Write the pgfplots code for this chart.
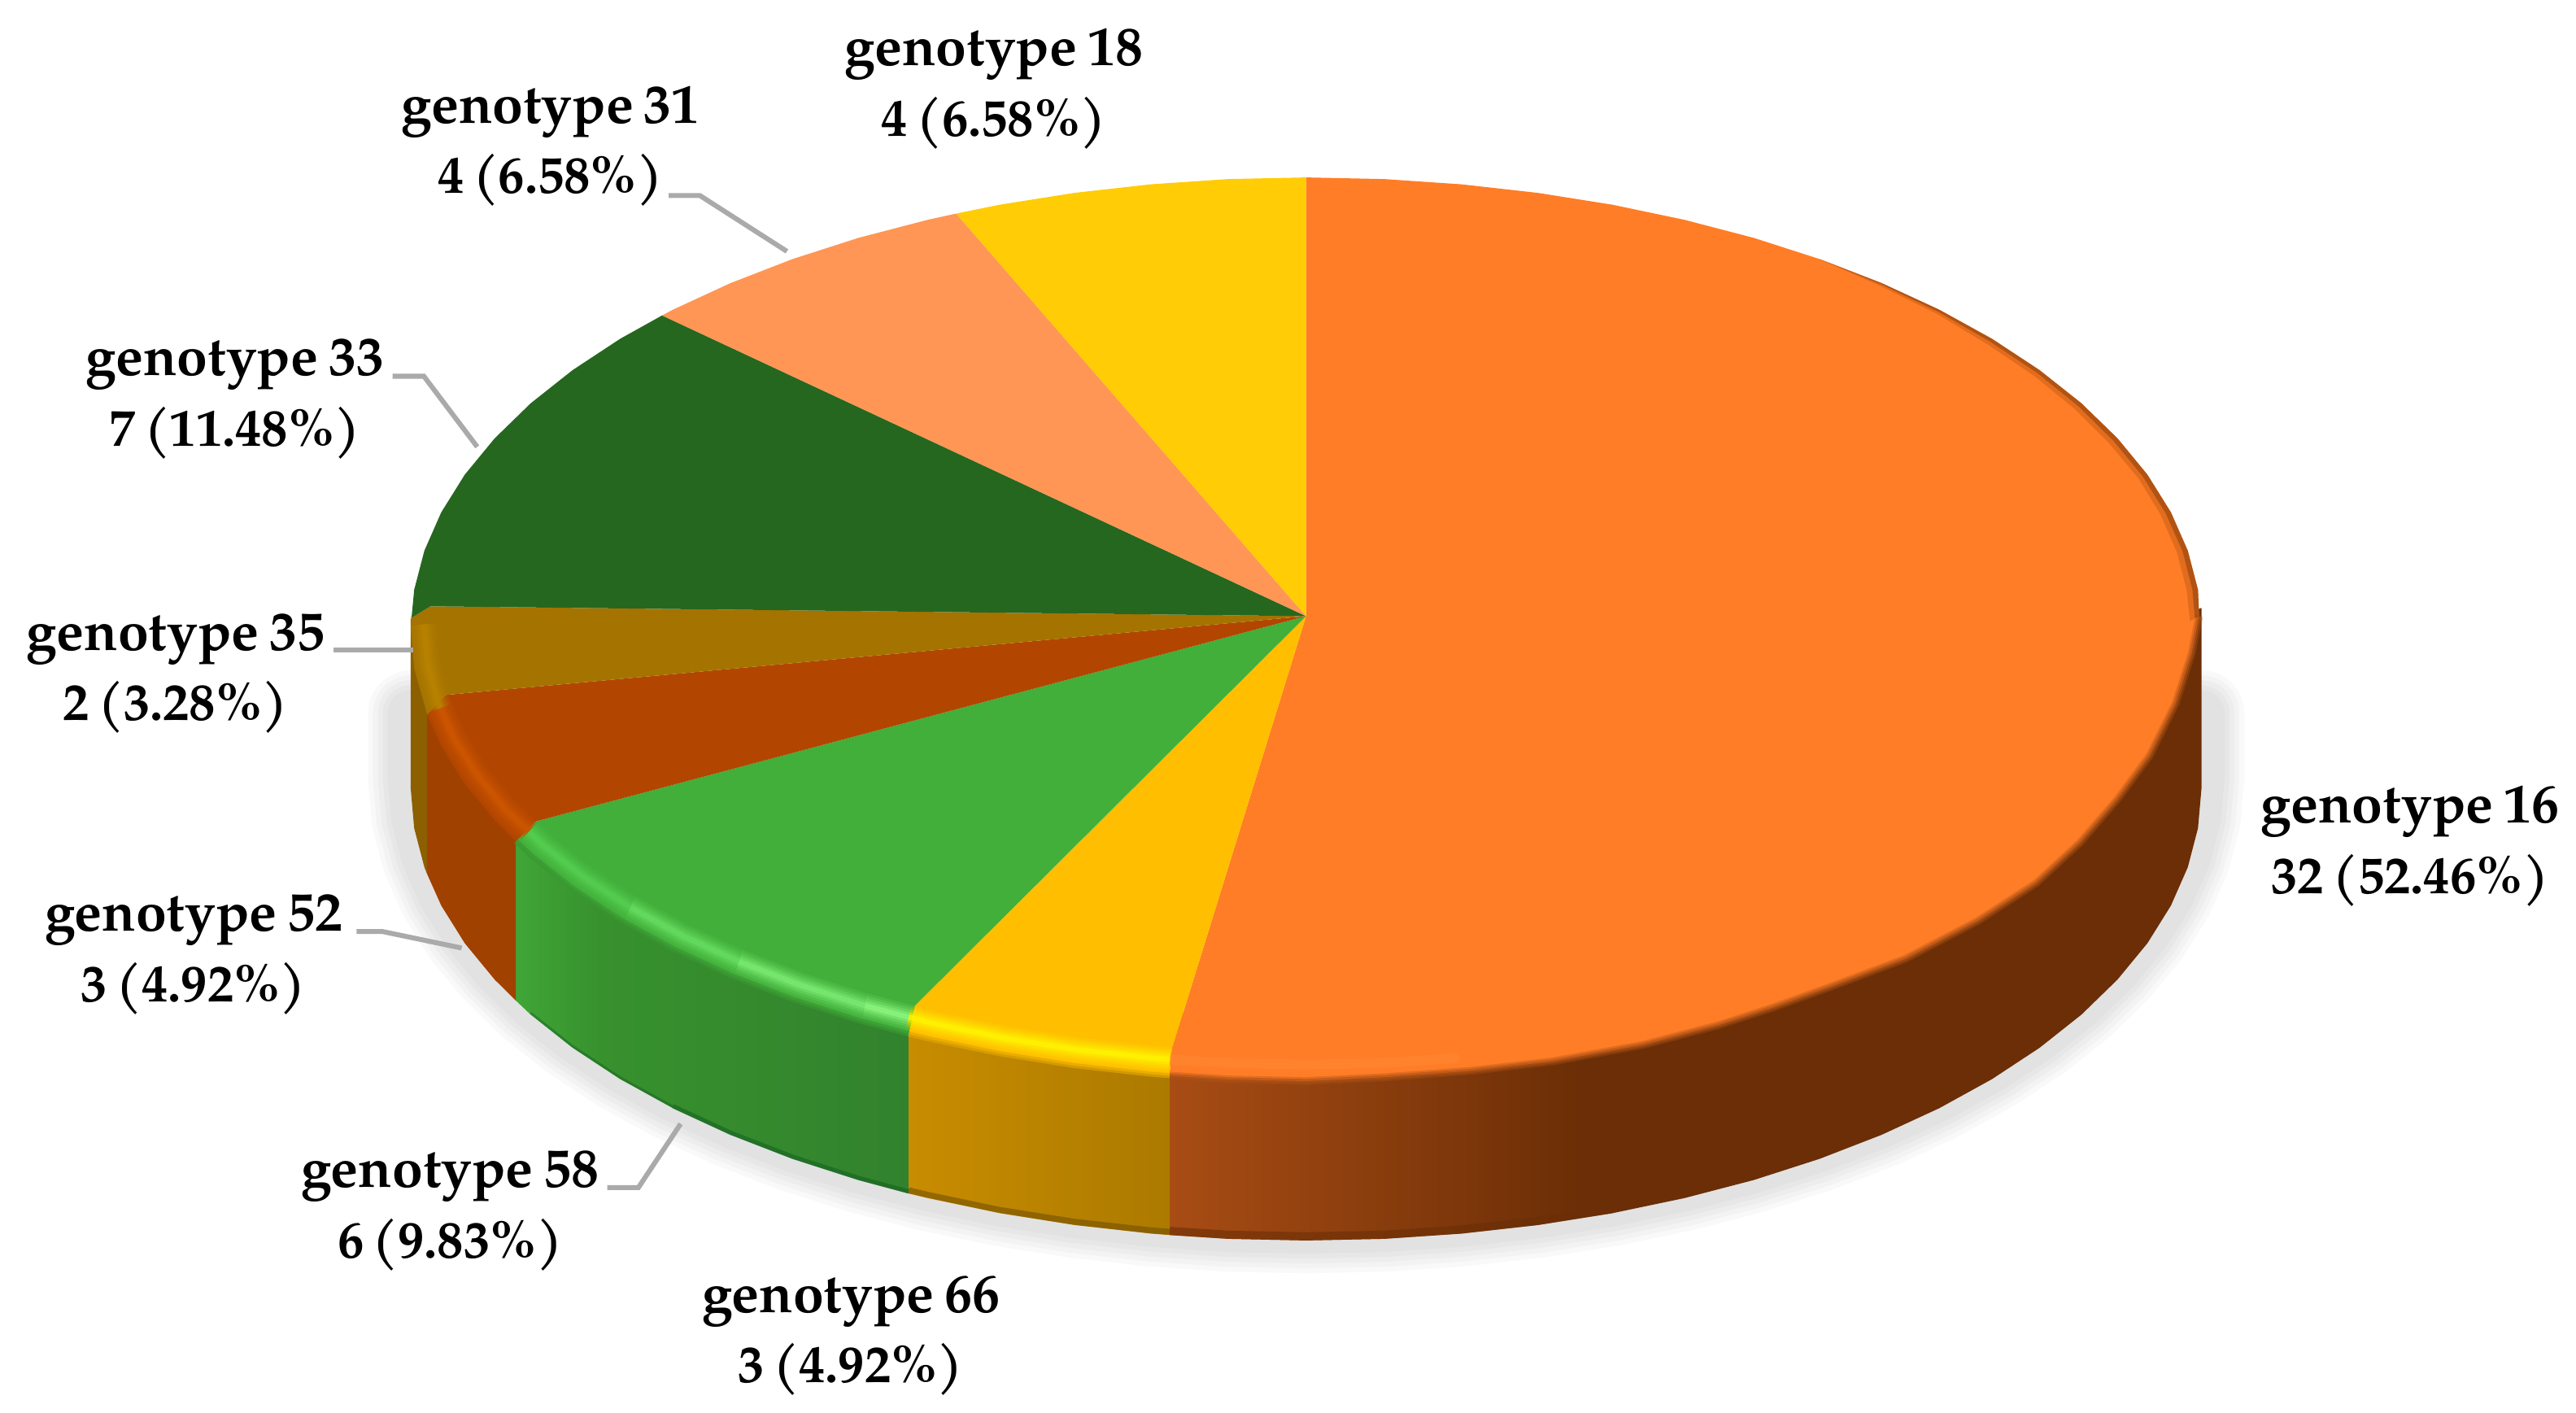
\documentclass[border=0pt]{standalone}
\usepackage{pgfplots}
\pgfplotsset{compat=1.18}
\usepackage{fontspec}
\setmainfont{TeX Gyre Pagella}
\definecolor{cOr}{RGB}{255,125,38}
\definecolor{cGold}{RGB}{255,190,0}
\definecolor{cGr}{RGB}{65,175,58}
\definecolor{cRed}{RGB}{178,70,0}
\definecolor{cOch}{RGB}{165,115,0}
\definecolor{cDg}{RGB}{38,103,32}
\definecolor{cLo}{RGB}{255,150,85}
\definecolor{cYe}{RGB}{255,204,5}
\definecolor{sOrA}{RGB}{168,76,20}
\definecolor{sOrB}{RGB}{107,46,6}
\definecolor{sYeA}{RGB}{200,140,0}
\definecolor{sYeB}{RGB}{172,122,0}
\definecolor{sGrA}{RGB}{50,130,45}
\definecolor{sGrB}{RGB}{55,145,45}
\definecolor{sGrC}{RGB}{64,165,55}
\definecolor{leader}{RGB}{170,170,170}
\pgfdeclarehorizontalshading{sideOrange}{100bp}{color(0bp)=(sOrA); color(25bp)=(sOrA); color(45bp)=(sOrB); color(100bp)=(sOrB)}
\pgfdeclarehorizontalshading{sideYellowR}{100bp}{color(0bp)=(sYeA); color(25bp)=(sYeA); color(75bp)=(sYeB); color(100bp)=(sYeB)}
\pgfdeclarehorizontalshading{sideGreen}{100bp}{color(0bp)=(sGrC); color(25bp)=(sGrC); color(36bp)=(sGrB); color(75bp)=(sGrA); color(100bp)=(sGrA)}
\newcommand{\rimline}[2]{%
  \addplot[draw=#1,line width=7.5pt,opacity=.15,line cap=butt,forget plot] coordinates {#2};
  \addplot[draw=#1,line width=6pt,opacity=.2,line cap=butt,forget plot] coordinates {#2};
  \addplot[draw=#1,line width=4.5pt,opacity=.3,line cap=butt,forget plot] coordinates {#2};
  \addplot[draw=#1,line width=3pt,opacity=.45,line cap=butt,forget plot] coordinates {#2};
  \addplot[draw=#1,line width=1.6pt,opacity=.8,line cap=butt,forget plot] coordinates {#2};
}
\newcommand{\labfont}{\fontsize{16}{21.5}\selectfont\bfseries\spaceskip=2.6pt\relax}
\newcommand{\labfontA}{\fontsize{16.8}{21.5}\selectfont\spaceskip=3.2pt\relax}
\newcommand{\lab}[4]{\node[font=\labfont,align=center,text=black,inner sep=0pt] at (axis cs:#1,#2) {{\labfontA #3}\\#4};}
\newcommand{\shadowpath}{(1340,440)(1340,480)(1337.9,504)(1331.7,527.8)(1321.4,551.2)(1307.1,574.1)(1288.9,596.2)(1267,617.5)(1241.5,637.7)(1212.5,656.8)(1180.4,674.5)(1145.3,690.7)(1107.6,705.3)(1067.5,718.2)(1025.3,729.2)(981.4,738.4)(936,745.6)(889.6,750.8)(842.5,754)(795,755)(747.5,754)(700.4,750.8)(654,745.6)(608.6,738.4)(564.7,729.2)(522.5,718.2)(482.4,705.3)(444.7,690.7)(409.6,674.5)(377.5,656.8)(348.5,637.7)(323,617.5)(301.1,596.2)(282.9,574.1)(268.6,551.2)(258.3,527.8)(252.1,504)(250,480)(250,440)}
\newcommand{\orangeedge}{(1338.6,375)(1334,398)(1324.4,428)(1308.5,460)(1289,486.4)(1266,513)(1239.5,537.5)(1204,560.5)(1160,583.5)(1116,600)(1080,613)(1046,624)(1000,636)(945,646)(895,651.8)(843.6,655.6)(795,658)(747.5,657)(712,654.7)}
\begin{document}
\begin{tikzpicture}
\useasboundingbox (0,0) rectangle (784pt,430pt);
\begin{axis}[
  anchor=south west, at={(0,0)},
  scale only axis, width=784pt, height=430pt,
  xmin=0, xmax=1568, ymin=0, ymax=860, y dir=reverse,
  axis lines=none, clip=false]
% soft shadow
\addplot[draw=black,line width=26pt,opacity=.022,line join=round,line cap=round,yshift=3pt,forget plot] coordinates {\shadowpath};
\addplot[draw=black,line width=23pt,opacity=.022,line join=round,line cap=round,yshift=3pt,forget plot] coordinates {\shadowpath};
\addplot[draw=black,line width=20pt,opacity=.022,line join=round,line cap=round,yshift=3pt,forget plot] coordinates {\shadowpath};
\addplot[draw=black,line width=17pt,opacity=.022,line join=round,line cap=round,yshift=3pt,forget plot] coordinates {\shadowpath};
\addplot[draw=black,line width=14pt,opacity=.022,line join=round,line cap=round,yshift=3pt,forget plot] coordinates {\shadowpath};
% sides
\addplot[shading=sideOrange,draw=none,forget plot] coordinates {(712,620)(1340,370)(1340,480)(1337.9,504)(1331.7,527.8)(1321.4,551.2)(1307.1,574.1)(1288.9,596.2)(1267,617.5)(1241.5,637.7)(1212.5,656.8)(1180.4,674.5)(1145.3,690.7)(1107.6,705.3)(1067.5,718.2)(1025.3,729.2)(981.4,738.4)(936,745.6)(889.6,750.8)(842.5,754)(795,755)(747.5,754)(712,751.7)} --cycle;
\addplot[shading=sideYellowR,draw=none,forget plot] coordinates {(712,640)(712,751.7)(700.4,750.8)(654,745.6)(608.6,738.4)(564.7,729.2)(553,726.4)(553,620)} --cycle;
\addplot[shading=sideGreen,draw=none,forget plot] coordinates {(553,620)(553,726.4)(522.5,718.2)(482.4,705.3)(444.7,690.7)(409.6,674.5)(377.5,656.8)(348.5,637.7)(323,617.5)(314,609)(314,500)} --cycle;
\addplot[fill={rgb,255:red,160;green,65;blue,0},draw=none,forget plot] coordinates {(314,500)(314,609)(301.1,596.2)(282.9,574.1)(268.6,551.2)(260,532)(260,425)} --cycle;
\addplot[fill={rgb,255:red,140;green,95;blue,0},draw=none,forget plot] coordinates {(260,425)(260,532)(258.3,527.8)(252.1,504)(250,480)(250,375)} --cycle;
% dark lip at the foot of the side
\addplot[draw=sOrB,line width=2.5pt,opacity=.6,forget plot] coordinates {(712,749.2)(747.5,751.5)(795,752.5)(842.5,751.5)(889.6,748.3)(936,743.1)(981.4,735.9)};
\addplot[draw={rgb,255:red,115;green,80;blue,0},line width=1.8pt,opacity=.6,forget plot] coordinates {(553,724.4)(564.7,727.2)(608.6,736.4)(654,743.6)(700.4,748.8)(712,749.7)};
\addplot[draw={rgb,255:red,20;green,95;blue,35},line width=.7pt,opacity=.45,forget plot] coordinates {(323,616.5)(348.5,636.7)(377.5,655.8)(409.6,673.5)};
\addplot[draw={rgb,255:red,20;green,95;blue,35},line width=1.3pt,opacity=.55,forget plot] coordinates {(409.6,673.2)(444.7,689.4)(482.4,704)(522.5,716.9)(553,725.1)};
% top surface: slices clockwise from 12 o'clock
\addplot[fill=cOr,draw=none,forget plot] coordinates {(795,375)(795,108)(842.5,109)(889.6,112.2)(936,117.4)(981.4,124.6)(1025.3,133.8)(1067.5,144.8)(1107.6,157.7)(1145.3,172.3)(1180.4,188.5)(1212.5,206.2)(1241.5,225.3)(1267,245.5)(1288.9,266.8)(1307.1,288.9)(1321.4,311.8)(1331.7,335.2)(1337.9,359)(1338.6,375)(1334,398)(1324.4,428)(1308.5,460)(1289,486.4)(1266,513)(1239.5,537.5)(1204,560.5)(1160,583.5)(1116,600)(1080,613)(1046,624)(1000,636)(945,646)(895,651.8)(843.6,655.6)(795,658)(747.5,657)(712,654.7)(713.5,638)} --cycle;
\addplot[fill=cGold,draw=none,forget plot] coordinates {(795,375)(713.5,638)(712,654.7)(700.4,653.8)(654,648.6)(608.6,641.4)(564.7,632.2)(553,629.4)(557,612)} --cycle;
\addplot[fill=cGr,draw=none,forget plot] coordinates {(795,375)(557,612)(553,629.4)(522.5,621.2)(482.4,608.3)(444.7,593.7)(409.6,577.5)(377.5,559.8)(348.5,540.7)(323,520.5)(314,512)(326,500)} --cycle;
\addplot[fill=cRed,draw=none,forget plot] coordinates {(795,375)(326,500)(314,512)(301.1,499.2)(282.9,477.1)(268.6,454.2)(260,435)(271,423)} --cycle;
\addplot[fill=cOch,draw=none,forget plot] coordinates {(795,375)(271,423)(260,435)(252.1,407)(250,383)(250.5,376)(262,369)} --cycle;
\addplot[fill=cDg,draw=none,forget plot] coordinates {(795,375)(262,369)(250.5,376)(252.1,359)(258.3,335.2)(268.6,311.8)(282.9,288.9)(301.1,266.8)(323,245.5)(348.5,225.3)(377.5,206.2)(403,192)} --cycle;
\addplot[fill=cLo,draw=none,forget plot] coordinates {(795,375)(403,192)(409.6,188.5)(444.7,172.3)(482.4,157.7)(522.5,144.8)(564.7,133.8)(582,130)} --cycle;
\addplot[fill=cYe,draw=none,forget plot] coordinates {(795,375)(582,130)(608.6,124.6)(654,117.4)(700.4,112.2)(747.5,109)(795,108)} --cycle;
% bevel highlights
\rimline{yellow}{(553,619)(568.1,622.9)(611.3,631.8)(656,638.9)(701.8,643.9)(712,644.8)}
\rimline{{rgb,255:red,85;green,205;blue,80}}{(322,506)(330,514)(355.1,533.7)(383.7,552.3)}
\rimline{{rgb,255:red,100;green,220;blue,95}}{(383.7,552.3)(415.3,569.5)(449.8,585.3)}
\rimline{{rgb,255:red,122;green,233;blue,112}}{(449.8,585.3)(487,599.5)(526.5,612.1)}
\rimline{{rgb,255:red,138;green,245;blue,125}}{(526.5,612.1)(553,619)}
\rimline{{rgb,255:red,205;green,85;blue,0}}{(268,431)(276.3,449.4)(290.4,471.7)(308.3,493.3)(322,506)}
\rimline{{rgb,255:red,185;green,130;blue,0}}{(268,431)(266.2,426.5)(260,403.4)(258,380)}
\addplot[draw={rgb,255:red,255;green,137;blue,52},line width=3pt,opacity=.5,forget plot] coordinates {(712,645)(748.2,647)(795,648)(841.8,647)(888.2,643.9)};
% soft transition from the bevel to the side
\addplot[draw={rgb,255:red,225;green,165;blue,0},line width=1.5pt,opacity=.7,forget plot] coordinates {(553,629.4)(564.7,632.2)(608.6,641.4)(654,648.6)(700.4,653.8)(712,654.7)};
\addplot[draw={rgb,255:red,58;green,152;blue,50},line width=1.5pt,opacity=.7,forget plot] coordinates {(314,512)(323,520.5)(348.5,540.7)(377.5,559.8)(409.6,577.5)(444.7,593.7)(482.4,608.3)(522.5,621.2)(553,629.4)};
\addplot[draw={rgb,255:red,175;green,82;blue,22},line width=2.4pt,opacity=.35,line join=round,forget plot] coordinates {\orangeedge};
\addplot[draw={rgb,255:red,175;green,82;blue,22},line width=1.3pt,opacity=.6,line join=round,forget plot] coordinates {\orangeedge};
% darker outer edge at the upper right
\addplot[fill={rgb,255:red,160;green,72;blue,14},draw=none,opacity=.3,forget plot] coordinates {(1107.6,157.7)(1145.3,172.3)(1180.4,188.5)(1212.5,206.2)(1241.5,225.3)(1267,245.5)(1288.9,266.8)(1307.1,288.9)(1321.4,311.8)(1331.7,335.2)(1337.9,359)(1338.6,375)(1333,378)(1331,359)(1325,336)(1315,313)(1301.5,291)(1284,270)(1263,249)(1238.5,229)(1210.5,210)(1179,191)(1144.5,174)} --cycle;
\addplot[fill={rgb,255:red,130;green,60;blue,10},draw=none,opacity=.5,forget plot] coordinates {(1107.6,157.7)(1145.3,172.3)(1180.4,188.5)(1212.5,206.2)(1241.5,225.3)(1267,245.5)(1288.9,266.8)(1307.1,288.9)(1321.4,311.8)(1331.7,335.2)(1337.9,359)(1338.6,375)(1336,376)(1334.5,359)(1328.5,335.5)(1318.2,312.4)(1304.3,290)(1286.5,268.4)(1265,247.2)(1240,227)(1211.5,208)(1179.7,189.7)(1145,173)} --cycle;
% leader lines
\addplot[draw=leader,line width=1.5pt,forget plot] coordinates {(407,119)(426,119)(479,153)};
\addplot[draw=leader,line width=1.5pt,forget plot] coordinates {(239,229)(258,229)(290.5,272)};
\addplot[draw=leader,line width=1.5pt,forget plot] coordinates {(203,395.5)(251.5,395.5)};
\addplot[draw=leader,line width=1.5pt,forget plot] coordinates {(217,567)(233,567)(281,577)};
\addplot[draw=leader,line width=1.5pt,forget plot] coordinates {(369.7,722.8)(388.6,722.8)(414.3,684)};
% labels
\lab{605}{54}{genotype 18}{4 (6.58\%)}
\lab{335}{89}{genotype 31}{4 (6.58\%)}
\lab{143}{243}{genotype 33}{7 (11.48\%)}
\lab{107}{410}{genotype 35}{2 (3.28\%)}
\lab{118}{581}{genotype 52}{3 (4.92\%)}
\lab{274}{737}{genotype 58}{6 (9.83\%)}
\lab{518}{813}{genotype 66}{3 (4.92\%)}
\lab{1467}{515}{genotype 16}{32 (52.46\%)}
\end{axis}
\end{tikzpicture}
\end{document}
